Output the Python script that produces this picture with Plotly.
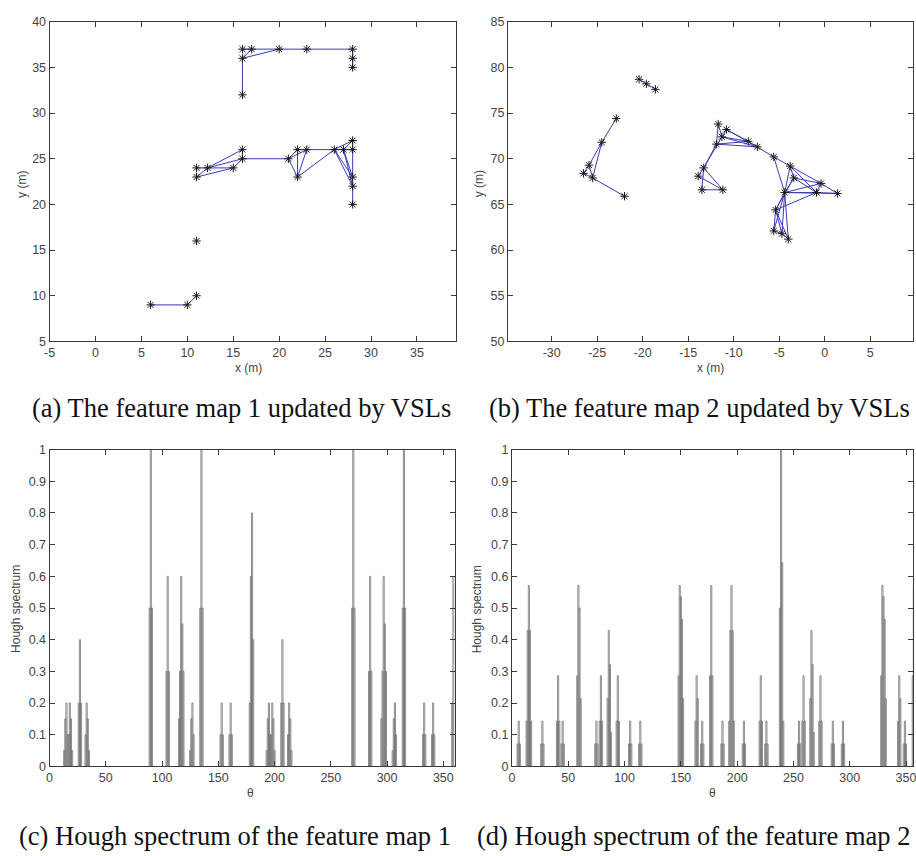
import plotly.graph_objects as go

W, H = 916, 856

# ---- Feature map 1: landmark positions (m) and VSL connections ----
map1_x = [16, 17, 20, 23, 28, 28, 28, 16, 16,
          11, 11, 12.2, 15, 16, 16, 21, 22, 23, 22, 26, 27, 28, 28, 28, 28, 28,
          6, 10, 11, 11]
map1_y = [37, 37, 37, 37, 37, 36, 35, 36, 32,
          24, 23, 24, 24, 26, 25, 25, 26, 26, 23, 26, 26, 27, 26, 23, 22, 20,
          9, 9, 10, 16]
map1_edges = [(0, 4), (7, 1), (7, 2), (7, 8), (4, 6),
              (9, 12), (10, 11), (10, 12), (11, 13), (11, 14), (12, 14), (14, 13),
              (14, 15), (15, 16), (15, 17), (15, 18), (16, 18), (18, 17), (18, 19),
              (16, 22), (19, 21), (20, 21), (19, 23), (19, 24), (20, 23), (20, 24),
              (21, 25), (26, 27), (27, 28)]

# ---- Feature map 2 ----
map2_x = [-20.4, -19.6, -18.6,
          -22.9, -24.5, -25.9, -26.5, -25.5, -22.0,
          -11.7, -10.8, -11.3, -11.9, -8.4, -7.4, -5.6, -13.3, -13.9, -13.5, -11.2,
          -3.8, -3.4, -0.4, -0.9, 1.4, -4.4, -5.4, -5.6, -4.7, -4.0]
map2_y = [78.7, 78.2, 77.6,
          74.4, 71.8, 69.3, 68.4, 67.9, 65.9,
          73.8, 73.2, 72.4, 71.6, 71.9, 71.3, 70.2, 69.0, 68.1, 66.6, 66.6,
          69.2, 67.9, 67.3, 66.3, 66.2, 66.3, 64.4, 62.1, 61.8, 61.2]
map2_edges = [(0, 1), (1, 2),
              (3, 4), (4, 5), (4, 7), (5, 6), (5, 7), (6, 7), (7, 8),
              (9, 11), (9, 12), (10, 11), (10, 13), (10, 14), (11, 13), (11, 14),
              (12, 13), (12, 14), (13, 14), (14, 15), (12, 16), (11, 16), (16, 17),
              (16, 18), (17, 19), (18, 19), (16, 19),
              (15, 20), (15, 25), (20, 21), (20, 22), (20, 23), (20, 25), (21, 22),
              (21, 23), (21, 25), (22, 23), (22, 24), (23, 24), (25, 23), (25, 24),
              (25, 22), (25, 26), (25, 27), (25, 28), (25, 29), (26, 27), (26, 28),
              (26, 29), (27, 28), (28, 29), (21, 26), (23, 26)]

# ---- Hough spectrum of feature map 1 (theta in degrees, normalised value) ----
hough1_theta = [13, 14, 15, 16, 17, 18, 19, 20,
                26, 27, 28,
                32, 33, 34, 35,
                89, 90, 91,
                104, 105, 106,
                115, 116, 117, 118, 119,
                125, 126, 127, 128,
                134, 135, 136,
                152, 153, 154,
                160, 161, 162,
                178, 179, 180, 181,
                193, 194, 195, 196, 197, 198, 199, 200,
                206, 207, 208,
                212, 213, 214, 215,
                269, 270, 271,
                284, 285, 286,
                295, 296, 297, 298, 299,
                305, 306, 307, 308,
                314, 315, 316,
                332, 333, 334,
                340, 341, 342,
                358, 359]
hough1_value = [0.05, 0.15, 0.2, 0.1, 0.1, 0.2, 0.15, 0.05,
                0.2, 0.4, 0.2,
                0.1, 0.2, 0.15, 0.05,
                0.5, 1.0, 0.5,
                0.3, 0.6, 0.3,
                0.15, 0.3, 0.6, 0.45, 0.3,
                0.05, 0.15, 0.2, 0.1,
                0.5, 1.0, 0.5,
                0.1, 0.2, 0.1,
                0.1, 0.2, 0.1,
                0.2, 0.6, 0.8, 0.4,
                0.05, 0.15, 0.2, 0.1, 0.1, 0.2, 0.15, 0.05,
                0.2, 0.4, 0.2,
                0.1, 0.2, 0.15, 0.05,
                0.5, 1.0, 0.5,
                0.3, 0.6, 0.3,
                0.15, 0.3, 0.6, 0.45, 0.3,
                0.05, 0.15, 0.2, 0.1,
                0.5, 1.0, 0.5,
                0.1, 0.2, 0.1,
                0.1, 0.2, 0.1,
                0.2, 0.6]

# ---- Hough spectrum of feature map 2 ----
hough2_theta = [5, 6, 7,
                13, 14, 15, 16, 17,
                26, 27, 28,
                40, 41, 42,
                44, 45, 46,
                58, 59, 60, 61,
                74, 75, 76,
                78, 79, 80,
                85, 86, 87, 88,
                93, 94, 95,
                104, 105, 106,
                113, 114, 115,
                148, 149, 150, 151, 152,
                163, 164, 165,
                168, 169, 170,
                176, 177, 178,
                186, 187, 188,
                193, 194, 195, 196, 197,
                205, 206, 207,
                220, 221, 222,
                225, 226, 227,
                238, 239, 240, 241,
                254, 255, 256,
                258, 259, 260,
                265, 266, 267, 268,
                273, 274, 275,
                284, 285, 286,
                293, 294, 295,
                328, 329, 330, 331, 332,
                343, 344, 345,
                348, 349, 350,
                356, 357, 358]
hough2_value = [0.071, 0.143, 0.071,
                0.143, 0.429, 0.571, 0.429, 0.143,
                0.071, 0.143, 0.071,
                0.143, 0.286, 0.143,
                0.071, 0.143, 0.071,
                0.286, 0.571, 0.5, 0.214,
                0.071, 0.143, 0.071,
                0.143, 0.286, 0.143,
                0.214, 0.429, 0.321, 0.107,
                0.143, 0.286, 0.143,
                0.071, 0.143, 0.071,
                0.071, 0.143, 0.071,
                0.286, 0.571, 0.536, 0.464, 0.214,
                0.143, 0.286, 0.214,
                0.071, 0.143, 0.071,
                0.286, 0.571, 0.286,
                0.071, 0.143, 0.071,
                0.143, 0.429, 0.571, 0.429, 0.143,
                0.071, 0.143, 0.071,
                0.143, 0.286, 0.143,
                0.071, 0.143, 0.071,
                0.5, 1.0, 0.643, 0.143,
                0.071, 0.143, 0.071,
                0.143, 0.286, 0.143,
                0.214, 0.429, 0.321, 0.107,
                0.143, 0.286, 0.143,
                0.071, 0.143, 0.071,
                0.071, 0.143, 0.071,
                0.286, 0.571, 0.536, 0.464, 0.214,
                0.143, 0.286, 0.214,
                0.071, 0.143, 0.071,
                0.286, 0.571, 0.286]

# ---- tick labels ----
map1_xticks = [-5, 0, 5, 10, 15, 20, 25, 30, 35]
map1_yticks = [5, 10, 15, 20, 25, 30, 35, 40]
map2_xticks = [-30, -25, -20, -15, -10, -5, 0, 5]
map2_yticks = [50, 55, 60, 65, 70, 75, 80, 85]
theta_ticks = [0, 50, 100, 150, 200, 250, 300, 350]
hough_ticks = [0, 0.1, 0.2, 0.3, 0.4, 0.5, 0.6, 0.7, 0.8, 0.9, 1]

captions = ["(a) The feature map 1 updated by VSLs",
            "(b) The feature map 2 updated by VSLs",
            "(c) Hough spectrum of the feature map 1",
            "(d) Hough spectrum of the feature map 2"]

AXIS_COLOR = "#3a3a3a"
SANS = "Liberation Sans, Arial, sans-serif"
TICK_FONT = dict(family=SANS, size=12.5, color="#444444")
LINE_BLUE = "#3a3ab4"
SPEC_GRAY = "#727272"


def px_x(p):
    return p / W


def px_y(p):
    return 1 - p / H


def edge_path(xs, ys, edges):
    ex, ey = [], []
    for i, j in edges:
        ex += [xs[i], xs[j], None]
        ey += [ys[i], ys[j], None]
    return ex, ey


def tick_text(vals):
    return [str(v) for v in vals]


fig = go.Figure()

# feature maps: VSL segments then landmark stars
for k, (xs, ys, edges) in enumerate([(map1_x, map1_y, map1_edges),
                                     (map2_x, map2_y, map2_edges)]):
    ax = "x" if k == 0 else "x2"
    ay = "y" if k == 0 else "y2"
    ex, ey = edge_path(xs, ys, edges)
    fig.add_trace(go.Scatter(x=ex, y=ey, mode="lines", xaxis=ax, yaxis=ay,
                             line=dict(color=LINE_BLUE, width=1),
                             hoverinfo="skip", showlegend=False))
    fig.add_trace(go.Scatter(x=xs, y=ys, mode="markers", xaxis=ax, yaxis=ay,
                             marker=dict(symbol="asterisk-open", size=7,
                                         color="#1a1a1a",
                                         line=dict(color="#1a1a1a", width=1)),
                             showlegend=False))

# Hough spectra drawn as outlined bars, one degree wide
for k, (th, val) in enumerate([(hough1_theta, hough1_value),
                               (hough2_theta, hough2_value)]):
    fig.add_trace(go.Bar(x=th, y=val, width=1,
                         xaxis="x3" if k == 0 else "x4",
                         yaxis="y3" if k == 0 else "y4",
                         marker=dict(color="rgba(0,0,0,0)",
                                     line=dict(color=SPEC_GRAY, width=0.8)),
                         showlegend=False))

common = dict(showgrid=False, zeroline=False, showline=True, linecolor=AXIS_COLOR,
              linewidth=1, mirror="ticks", ticks="inside", ticklen=5,
              tickcolor=AXIS_COLOR, tickfont=TICK_FONT)

top_dom = [px_y(340), px_y(15)]
bot_dom = [px_y(772), px_y(450)]

fig.update_layout(
    width=W, height=H, margin=dict(l=0, r=0, t=0, b=0),
    paper_bgcolor="white", plot_bgcolor="white", barmode="overlay",
    xaxis=dict(domain=[px_x(44), px_x(454)], range=[-5, 39.2], anchor="y",
               tickvals=map1_xticks, ticktext=tick_text(map1_xticks), **common),
    yaxis=dict(domain=top_dom, range=[5, 40], anchor="x",
               tickvals=map1_yticks, ticktext=tick_text(map1_yticks), **common),
    xaxis2=dict(domain=[px_x(507), 1.0], range=[-34.8, 9.7], anchor="y2",
                tickvals=map2_xticks, ticktext=tick_text(map2_xticks), **common),
    yaxis2=dict(domain=top_dom, range=[50, 85], anchor="x2",
                tickvals=map2_yticks, ticktext=tick_text(map2_yticks), **common),
    xaxis3=dict(domain=[px_x(44), px_x(453)], range=[0, 360], anchor="y3",
                tickvals=theta_ticks, **common),
    yaxis3=dict(domain=bot_dom, range=[0, 1], anchor="x3",
                tickvals=hough_ticks, **common),
    xaxis4=dict(domain=[px_x(511), 1.0], range=[0, 356.2], anchor="y4",
                tickvals=theta_ticks, ticklabeloverflow="allow", **common),
    yaxis4=dict(domain=bot_dom, range=[0, 1], anchor="x4",
                tickvals=hough_ticks, **common),
)

LABEL_FONT = dict(family=SANS, size=12, color="#444444")
CAP_FONT = dict(family="Liberation Serif, Times New Roman, serif", size=26.5,
                color="#111111")

annos = []
# axis titles
for cx, cy, text, ang in [(245, 367, "x (m)", 0), (16, 180, "y (m)", -90),
                          (711, 367, "x (m)", 0), (478, 180, "y (m)", -90),
                          (247, 799, "\u03b8", 0), (10, 612, "Hough spectrum", -90),
                          (714, 799, "\u03b8", 0), (476, 612, "Hough spectrum", -90)]:
    annos.append(dict(x=px_x(cx), y=px_y(cy), xref="paper", yref="paper",
                      text=text, showarrow=False, textangle=ang, font=LABEL_FONT,
                      xanchor="center", yanchor="middle"))
# panel captions
for (cx, cy), text in zip([(238, 408), (700, 408), (231, 843), (694, 843)], captions):
    annos.append(dict(x=px_x(cx), y=px_y(cy), xref="paper", yref="paper",
                      text=text, showarrow=False, font=CAP_FONT,
                      xanchor="center", yanchor="middle"))
fig.update_layout(annotations=annos)

fig.write_html("out.html")
